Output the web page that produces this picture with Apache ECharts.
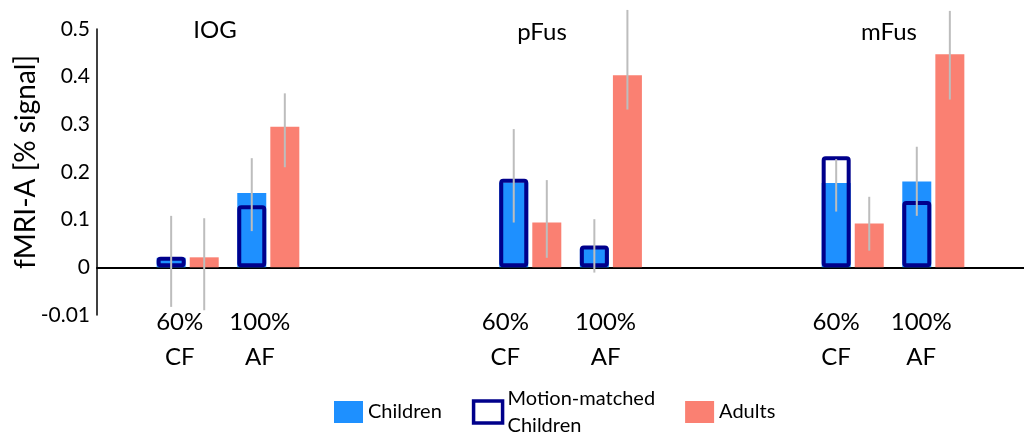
<!DOCTYPE html>
<html><head><meta charset="utf-8">
<script src="https://cdn.jsdelivr.net/npm/echarts@6/dist/echarts.min.js"></script>
<style>html,body{margin:0;padding:0;background:#fff}#c{width:1024px;height:435px}</style>
</head><body><div id="c"></div>
<script>
// ---- data ----
const regions = ['IOG', 'pFus', 'mFus'];
const categories = ['60%\nCF', '100%\nAF', '60%\nCF', '100%\nAF', '60%\nCF', '100%\nAF'];
const children = [0.020, 0.156, 0.178, 0.040, 0.177, 0.180];
const motionMatched = [0.022, 0.130, 0.186, 0.046, 0.233, 0.139];
const adults = [0.021, 0.295, 0.094, 0.403, 0.092, 0.447];
const childrenErrLow = [-0.083, 0.076, 0.094, -0.011, 0.117, 0.108];
const childrenErrHigh = [0.108, 0.229, 0.290, 0.101, 0.227, 0.253];
const adultsErrLow = [-0.090, 0.210, 0.020, 0.331, 0.035, 0.352];
const adultsErrHigh = [0.103, 0.365, 0.183, 0.540, 0.148, 0.538];
const yTickValues = [-0.1, 0, 0.1, 0.2, 0.3, 0.4, 0.5];
const yTickLabels = ['-0.01', '0', '0.1', '0.2', '0.3', '0.4', '0.5'];

// ---- layout / style ----
const SLOTS = 46;
const barSlots = [4, 8, 21, 25, 37, 41];
const LABEL_SLOTS = 185;
const labelSlots = [16, 32, 81, 101, 147, 164];
const titlePos = [[215, 30], [542, 32], [889, 32]];
const BAR_W = 29, GAP_PCT = 14;
const C_BLUE = '#1E90FF', C_NAVY = '#00008B', C_SALMON = '#FA8072', C_ERR = '#BDBDBD';
const FONT = 'Lato';

const mainCats = Array.from({length: SLOTS}, (_, i) => {
  const k = barSlots.indexOf(i);
  return k >= 0 ? regions[Math.floor(k / 2)] + ' ' + categories[k].replace('\n', ' ') : ' '.repeat(i + 1);
});
const labelCats = Array.from({length: LABEL_SLOTS}, (_, i) => {
  const k = labelSlots.indexOf(i);
  return k >= 0 ? categories[k] : '\u200b'.repeat(i + 1);
});

function errRender(side) {
  return function (params, api) {
    const x = api.value(0);
    const lo = api.coord([x, api.value(1)]);
    const hi = api.coord([x, api.value(2)]);
    const dx = side * BAR_W * (1 + GAP_PCT / 100) / 2;
    return {type: 'line', shape: {x1: lo[0] + dx, y1: lo[1], x2: hi[0] + dx, y2: hi[1]},
            style: {stroke: C_ERR, lineWidth: 2}};
  };
}

const chart = echarts.init(document.getElementById('c'), null, {renderer: 'canvas'});
chart.setOption({
  animation: false,
  backgroundColor: '#fff',
  textStyle: {fontFamily: FONT},
  grid: {left: 97, right: 0, top: 29, bottom: 120, outerBoundsMode: 'none'},
  graphic: regions.map((r, i) => ({
    type: 'text', x: titlePos[i][0], y: titlePos[i][1],
    style: {text: r, fontSize: 24, fontFamily: FONT, fill: '#000', align: 'center', verticalAlign: 'middle'}
  })),
  legend: {
    left: 329, top: 380, icon: 'rect', itemWidth: 29, itemHeight: 22, itemGap: 30,
    textStyle: {fontSize: 20, fontFamily: FONT, color: '#000', lineHeight: 27},
    formatter: n => n === 'Motion-matched Children' ? 'Motion-matched\nChildren' : n,
    data: [
      {name: 'Children'},
      {name: 'Motion-matched Children', itemStyle: {color: '#fff', borderColor: C_NAVY, borderWidth: 3.5}},
      {name: 'Adults'}
    ]
  },
  xAxis: [
    {type: 'category', data: mainCats, axisLine: {onZero: true, lineStyle: {color: '#000', width: 2}},
     axisTick: {show: false}, axisLabel: {show: false}, splitLine: {show: false}},
    {type: 'category', data: mainCats, show: false},
    {type: 'category', data: labelCats, position: 'bottom',
     axisLine: {show: false, onZero: false}, axisTick: {show: false}, splitLine: {show: false},
     axisLabel: {interval: 0, margin: -10, fontSize: 24, lineHeight: 35, color: '#000', fontFamily: FONT}}
  ],
  yAxis: {
    type: 'value', min: -0.1, max: 0.5, interval: 0.1,
    name: 'fMRI-A [% signal]', nameLocation: 'middle', nameGap: 57, nameMoveOverlap: false,
    nameTextStyle: {fontSize: 28, color: '#000', fontFamily: FONT, padding: [0, 0, 0, 20]},
    axisLine: {show: true, lineStyle: {color: '#000', width: 1.5}},
    axisTick: {show: false}, splitLine: {show: false},
    axisLabel: {fontSize: 21, margin: 7, color: '#000', fontFamily: FONT,
      formatter: v => { const k = yTickValues.findIndex(t => Math.abs(t - v) < 1e-9); return k >= 0 ? yTickLabels[k] : ''; }}
  },
  series: [
    {name: 'Children', type: 'bar', xAxisIndex: 0, barWidth: BAR_W, barGap: GAP_PCT + '%',
     itemStyle: {color: C_BLUE}, data: children.map((v, k) => [barSlots[k], v])},
    {name: 'Adults', type: 'bar', xAxisIndex: 0, barWidth: BAR_W, barGap: GAP_PCT + '%',
     itemStyle: {color: C_SALMON}, data: adults.map((v, k) => [barSlots[k], v])},
    {name: 'Motion-matched Children', type: 'bar', xAxisIndex: 1, barWidth: BAR_W, barGap: GAP_PCT + '%',
     itemStyle: {color: 'transparent', borderColor: C_NAVY, borderWidth: 4, borderRadius: 2},
     data: motionMatched.map((v, k) => [barSlots[k], v])},
    {name: '_pad', type: 'bar', xAxisIndex: 1, barWidth: BAR_W, barGap: GAP_PCT + '%', silent: true,
     itemStyle: {color: 'transparent'}, data: motionMatched.map((v, k) => [barSlots[k], 0])},
    {name: 'Children error', type: 'custom', xAxisIndex: 0, z: 5, renderItem: errRender(-1),
     encode: {x: 0, y: [1, 2]}, data: children.map((v, k) => [barSlots[k], childrenErrLow[k], childrenErrHigh[k]])},
    {name: 'Adults error', type: 'custom', xAxisIndex: 0, z: 5, renderItem: errRender(1),
     encode: {x: 0, y: [1, 2]}, data: adults.map((v, k) => [barSlots[k], adultsErrLow[k], adultsErrHigh[k]])}
  ]
});
</script></body></html>
